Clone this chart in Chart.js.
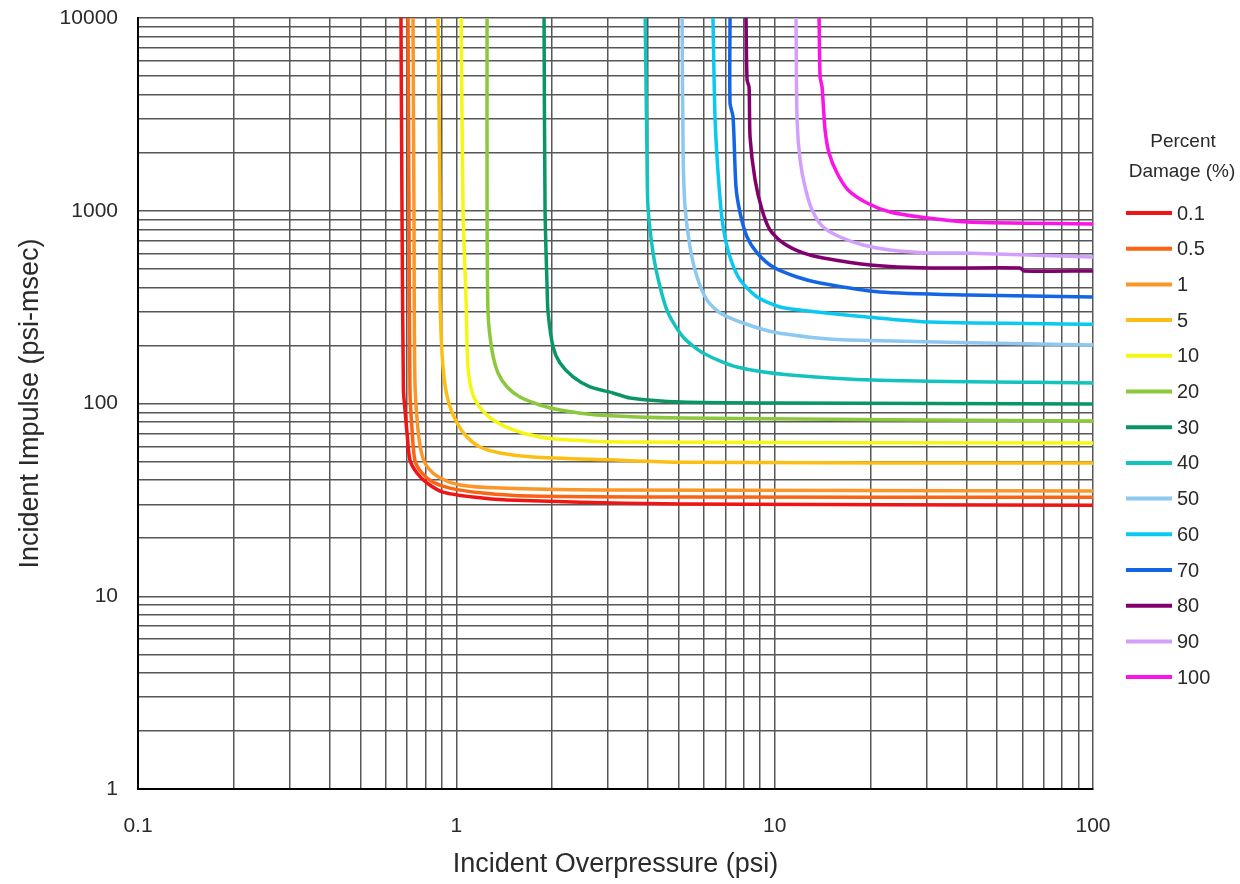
<!DOCTYPE html>
<html>
<head>
<meta charset="utf-8">
<script src="https://cdn.jsdelivr.net/npm/chart.js@4.4.1/dist/chart.umd.min.js"></script>
<style>
  html, body { margin: 0; padding: 0; background: #ffffff; }
  #wrap { position: relative; width: 1240px; height: 884px; }
</style>
</head>
<body>
<div id="wrap"><canvas id="c" width="1240" height="884"></canvas></div>
<script>
// ---- Data ----
const seriesLabels = ['0.1', '0.5', '1', '5', '10', '20', '30', '40', '50', '60', '70', '80', '90', '100'];

const s0_1 = [[0.670,10000],[0.675,1000],[0.682,117],[0.690,92.5],[0.700,70.3],[0.715,50.9],[0.752,43.6],[0.809,38.7],[0.908,34.7],[1.128,32.7],[1.444,31.6],[5.1,30.1],[100,29.7]];
const s0_5 = [[0.705,10000],[0.710,1000],[0.715,117],[0.726,72.9],[0.741,50.9],[0.780,43.6],[0.845,39.1],[0.955,36.4],[1.213,34.3],[1.704,33.1],[5.1,32.7],[100,32.6]];
const s1   = [[0.731,10000],[0.736,1000],[0.741,132],[0.758,72.9],[0.780,54.1],[0.815,46.3],[0.889,41.1],[1.027,37.8],[1.371,36.4],[2.83,35.6],[100,35.2]];
const s5   = [[0.876,10000],[0.889,1000],[0.889,344],[0.908,154.6],[0.942,104],[1.005,79.2],[1.080,67],[1.187,59.5],[1.371,55.4],[1.742,52.8],[3.0,51],[5.1,49.5],[100,49.1]];
const s10  = [[1.035,10000],[1.050,1000],[1.073,344],[1.088,154.6],[1.128,110.7],[1.204,92.5],[1.305,82.1],[1.507,72.9],[1.832,67],[2.276,64.6],[3.27,63.1],[100,62.4]];
const s20  = [[1.249,10000],[1.249,1000],[1.258,295],[1.294,189.5],[1.352,143.9],[1.444,121.8],[1.585,108],[1.832,98.2],[2.117,92.5],[2.767,87.2],[5.1,84.1],[100,81.2]];
const s30  = [[1.886,10000],[1.900,1000],[1.928,402],[1.942,295],[2.013,196.4],[2.117,162.2],[2.327,137.3],[2.630,121.8],[3.106,113.4],[3.513,106.8],[5.1,101.8],[10.2,100.6],[100,99.4]];
const s40  = [[3.92,10000],[3.97,1993],[4.00,1046],[4.15,603.8],[4.365,402],[4.626,295],[5.157,221.3],[5.957,182.8],[7.62,154.6],[11.18,140.5],[21.4,132],[100,127.8]];
const s50  = [[5.12,10000],[5.157,1993],[5.23,1046],[5.42,648.6],[5.705,453.2],[6.13,344],[6.74,295],[7.96,261.6],[9.89,235],[13.59,218.7],[16.89,213.5],[100,201]];
const s60  = [[6.40,10000],[6.50,2957],[6.69,1328],[6.89,823.5],[7.24,575.4],[7.79,437.2],[8.81,357],[10.4,316.7],[13.59,298.4],[19.5,281.1],[30.8,264.8],[100,258]];
const s70  = [[7.24,10000],[7.24,3622],[7.40,3065],[7.56,1328],[7.79,973],[8.19,730.8],[8.81,603.8],[9.89,510.7],[11.76,453.2],[13.89,421.9],[21.4,378.8],[40.2,365.5],[100,357]];
const s80  = [[8.13,10000],[8.19,4768],[8.31,4385],[8.37,2413],[8.68,1444],[9.13,1009],[9.67,794.5],[10.63,680.2],[12.28,603.8],[14.2,568.8],[19.94,523],[30.8,504.6],[59.0,504.6],[60.7,487],[100,487]];
const s90  = [[11.67,10000],[11.76,2957],[12.02,1834],[12.46,1328],[13.11,1009],[14.2,823.5],[16.05,730.8],[18.96,664.1],[23.05,625.7],[30.8,603.8],[39.1,603.8],[100,575.4]];
const s100 = [[13.79,10000],[13.89,4941],[14.09,4385],[14.40,2624],[14.82,1993],[15.70,1570],[17.01,1282],[19.5,1097],[23.05,985],[28.6,928],[40.2,874],[100,854]];

const seriesData = [s0_1, s0_5, s1, s5, s10, s20, s30, s40, s50, s60, s70, s80, s90, s100];

const xTickLabels = [0.1, 1, 10, 100];
const yTickLabels = [1, 10, 100, 1000, 10000];

// ---- Styles ----
const seriesColors = ['#f01414', '#fa6414', '#fb9628', '#fcbe14', '#f6f614', '#8cc83c', '#0a9664', '#14c3be', '#8cc8f0', '#0ac8f0', '#1464e6', '#82006e', '#d2a0fa', '#fa14e6'];
const FONT = '"Liberation Sans", Arial, Helvetica, sans-serif';
const TEXT = '#2a2a2a';
const GRID = '#575757';

function logGrid(minExp, maxExp) {
  const out = [];
  for (let e = minExp; e < maxExp; e++) {
    for (let m = 1; m <= 9; m++) out.push(+(m * Math.pow(10, e)).toPrecision(6));
  }
  out.push(Math.pow(10, maxExp));
  return out;
}
const xGrid = logGrid(-1, 2);
const yGrid = logGrid(0, 4);

function isLabel(v, list) {
  return list.some(l => Math.abs(v - l) / l < 1e-6);
}

const datasets = seriesData.map((arr, i) => ({
  label: seriesLabels[i],
  data: arr.map(p => ({ x: p[0], y: p[1] })),
  showLine: true,
  borderColor: seriesColors[i],
  backgroundColor: seriesColors[i],
  borderWidth: 3.5,
  pointRadius: 0,
  fill: false,
  tension: 0.25,
  borderJoinStyle: 'round',
  borderCapStyle: 'round'
}));

// Legend drawn from the datasets
const legendPlugin = {
  id: 'sideLegend',
  afterDraw(chart) {
    const ctx = chart.ctx;
    ctx.save();
    ctx.fillStyle = TEXT;
    ctx.font = '19px ' + FONT;
    ctx.textAlign = 'center';
    ctx.textBaseline = 'middle';
    ctx.fillText('Percent', 1183, 142);
    ctx.fillText('Damage (%)', 1182, 172);
    const y0 = 213, step = 35.7;
    chart.data.datasets.forEach((ds, i) => {
      const y = y0 + i * step;
      ctx.strokeStyle = ds.borderColor;
      ctx.lineWidth = 4;
      ctx.beginPath();
      ctx.moveTo(1126, y);
      ctx.lineTo(1172, y);
      ctx.stroke();
      ctx.fillStyle = TEXT;
      ctx.font = '20px ' + FONT;
      ctx.textAlign = 'left';
      ctx.fillText(ds.label, 1177, y + 1);
    });
    ctx.restore();
  }
};

new Chart(document.getElementById('c').getContext('2d'), {
  type: 'scatter',
  data: { datasets },
  options: {
    responsive: false,
    animation: false,
    layout: { padding: { left: 0, top: 18, right: 147, bottom: 0 } },
    plugins: { legend: { display: false }, tooltip: { enabled: false } },
    scales: {
      x: {
        type: 'logarithmic',
        min: 0.1, max: 100,
        afterBuildTicks: s => { s.ticks = xGrid.map(v => ({ value: v })); },
        afterFit: s => { s.height = 95; s.paddingLeft = 0; s.paddingRight = 0; },
        ticks: {
          autoSkip: false, maxRotation: 0, minRotation: 0, padding: 25,
          color: TEXT, font: { family: FONT, size: 21 },
          callback: v => isLabel(v, xTickLabels) ? String(v) : ''
        },
        grid: { color: GRID, lineWidth: 1.5, drawTicks: false },
        border: { color: '#000000', width: 2 },
        title: {
          display: true, text: 'Incident Overpressure (psi)',
          color: TEXT, font: { family: FONT, size: 27 }, padding: { top: 0, bottom: 3 }
        }
      },
      y: {
        type: 'logarithmic',
        min: 1, max: 10000,
        afterBuildTicks: s => { s.ticks = yGrid.map(v => ({ value: v })); },
        afterFit: s => { s.width = 138; s.paddingTop = 0; s.paddingBottom = 0; },
        ticks: {
          autoSkip: false, padding: 20,
          color: TEXT, font: { family: FONT, size: 21 },
          callback: v => isLabel(v, yTickLabels) ? String(v) : ''
        },
        grid: { color: GRID, lineWidth: 1.5, drawTicks: false },
        border: { color: '#000000', width: 2 },
        title: {
          display: true, text: 'Incident Impulse (psi-msec)',
          color: TEXT, font: { family: FONT, size: 27 }, padding: { top: 14, bottom: 0 }
        }
      }
    }
  },
  plugins: [legendPlugin]
});
</script>
</body>
</html>
